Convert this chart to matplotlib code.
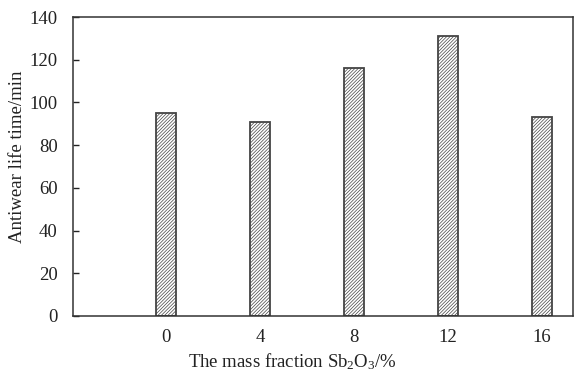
import matplotlib
matplotlib.use("Agg")
import matplotlib.pyplot as plt

categories = ["0", "4", "8", "12", "16"]
values = [95, 91, 116, 131, 93]
yticks = [0, 20, 40, 60, 80, 100, 120, 140]

plt.rcParams['font.family'] = ['Liberation Serif', 'DejaVu Serif']
plt.rcParams['mathtext.fontset'] = 'custom'
plt.rcParams['mathtext.rm'] = 'Liberation Serif'
plt.rcParams['mathtext.default'] = 'regular'
plt.rcParams['hatch.color'] = '#666666'
plt.rcParams['hatch.linewidth'] = 0.5

fig = plt.figure(figsize=(5.74, 3.80), dpi=100)
ax = fig.add_axes([73/574, 1 - 316/380, (573-73)/574, (316-17)/380])

x = list(range(len(categories)))
ax.bar(x, values, width=0.21, facecolor='white', edgecolor='#444444',
       linewidth=1.3, hatch='//////////')

ax.set_xlim(-0.99, 4.33)
ax.set_ylim(0, 140)
ax.set_yticks(yticks)
ax.set_xticks(x)
ax.set_xticklabels(categories)
ax.tick_params(axis='y', direction='in', length=4, width=1, labelsize=13.5, colors='#222222', pad=11)
ax.tick_params(axis='x', length=0, labelsize=13.5, colors='#222222', pad=9)
for s in ax.spines.values():
    s.set_color('#333333')
    s.set_linewidth(1.1)

ax.set_ylabel('Antiwear life time/min', fontsize=13.5, color='#222222')
ax.yaxis.set_label_coords((18 - 73) / 500, (316 - 157) / 299)
ax.set_xlabel('The mass fraction Sb$_2$O$_3$/%', fontsize=13.5, color='#222222')
ax.xaxis.set_label_coords((292 - 73) / 500, (316 - 362) / 299)
ax.xaxis.label.set_va('center')
ax.yaxis.label.set_va('center')

fig.savefig('out.png', dpi=100)
